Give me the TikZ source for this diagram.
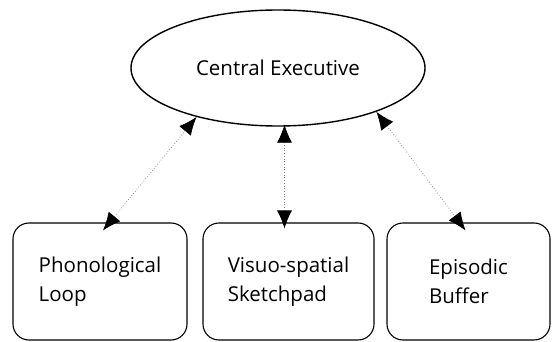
\documentclass[tikz,border=0pt]{standalone}
\usepackage{fontspec}
\setmainfont[Ligatures=NoCommon]{Open Sans}
\usetikzlibrary{shapes, arrows.meta, positioning}

\begin{document}
\begin{tikzpicture}[
    x=1pt, y=-1pt,
    % GLOBAL CFG
    font=\fontsize{20.5}{29}\selectfont,
    >={Latex[length=18pt,width=15pt,color=black]},
    % Styles
    exec/.style={% For the central executive
        ellipse,
        draw,
        line width=1.4pt,
        minimum width=294pt,
        minimum height=116pt,
        inner sep=0pt,
        },
    slave/.style={% For the sub systems
        rectangle,
        rounded corners=16pt,
        draw,
        line width=1.1pt,
        minimum height=117pt,
        align=left,
        },
    link/.style={% Dotted arrows between the parts
        <->,
        dotted,
        gray,
        line width=0.7pt,
        },
    ]

    \useasboundingbox (0,0) rectangle (552,342);

    % Draw the executive
    \node [exec] (ce) at (278,68) {Central Executive};

    % Draw the sub systems
    \node [slave, minimum width=174pt] (pl) at (100,281.5) {Phonological\\Loop};
    \node [slave, minimum width=171pt] (vs) at (288.5,281.5) {Visuo-spatial\\Sketchpad};
    \node [slave, minimum width=163pt] (eb) at (468.5,281.5) {Episodic\\Buffer};

    % Connect all
    \draw [link] (ce.211) -- ([xshift=3pt,yshift=-8pt]pl.north);
    \draw [link] ([xshift=-4pt,yshift=2pt]vs.north |- ce.south) -- ([xshift=-4pt,yshift=-6pt]vs.north);
    \draw [link] (ce.-24) -- ([xshift=-3pt,yshift=-8pt]eb.north);

\end{tikzpicture}
\end{document}
